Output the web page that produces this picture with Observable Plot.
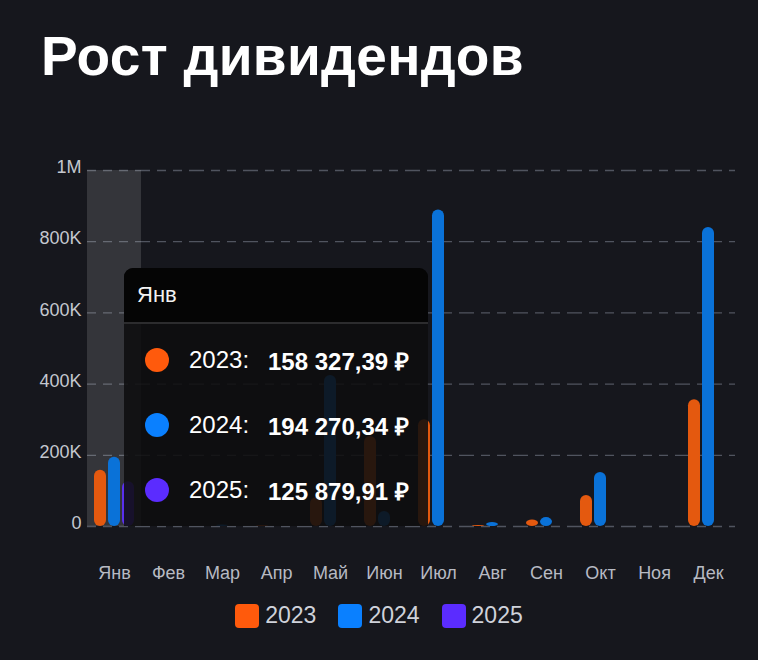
<!DOCTYPE html>
<html>
<head>
<meta charset="utf-8">
<script src="https://cdn.jsdelivr.net/npm/d3@7"></script>
<script src="https://cdn.jsdelivr.net/npm/@observablehq/plot@0.6"></script>
<style>
  html, body { margin: 0; padding: 0; }
  body { width: 758px; height: 660px; overflow: hidden; background: #16171d; font-family: "Liberation Sans", Arial, sans-serif; position: relative; }
  #title { position: absolute; left: 41px; top: 29px; font-size: 55px; font-weight: bold; color: #ffffff; line-height: 1; letter-spacing: 0.3px; }
  #chart { position: absolute; left: 0; top: 150px; }
  #tooltip { position: absolute; left: 124px; top: 268px; width: 304px; height: 258px; border-radius: 9px 9px 0 0; background: rgba(14,14,15,0.88); overflow: hidden; color: #fff; }
  #tooltip .head { height: 54px; background: #050505; border-bottom: 2px solid #2c2c2e; font-size: 22px; line-height: 54px; padding-left: 13px; color: #f2f2f2; }
  #tooltip .row { position: absolute; left: 21px; height: 30px; display: flex; align-items: center; font-size: 24px; }
  #tooltip .dot { width: 24px; height: 24px; border-radius: 50%; margin-right: 20px; }
  #tooltip .lab { width: 79px; }
  #tooltip .val { font-weight: bold; }
  #legend { position: absolute; top: 602px; left: 0; width: 758px; display: flex; justify-content: center; gap: 22px; font-size: 23px; color: #cfd2da; }
  #legend .item { display: flex; align-items: center; }
  #legend .sw { width: 24px; height: 24px; border-radius: 4px; margin-right: 6px; }
</style>
</head>
<body>
<div id="title">Рост дивидендов</div>
<div id="chart"></div>
<div id="tooltip"></div>
<div id="legend"></div>
<script>
const months = ["Янв","Фев","Мар","Апр","Май","Июн","Июл","Авг","Сен","Окт","Ноя","Дек"];
const years = ["2023","2024","2025"];
const v2023 = [158327.39, 0, 0, 3000, 81000, 253000, 300000, 3000, 18000, 87000, 0, 356000];
const v2024 = [194270.34, 0, 4000, 0, 424000, 42000, 889000, 11000, 25000, 152000, 0, 840000];
const v2025 = [125879.91, 0, 0, 0, 0, 0, 0, 0, 0, 0, 0, 0];
const yTicks = [0, 200000, 400000, 600000, 800000, 1000000];
const barColors = ["#e4590f", "#0a72d8", "#5a2ff0"];
const legendColors = ["#ff5a0c", "#0a80ff", "#5b2cff"];
const highlightMonth = "Янв";

const series = [v2023, v2024, v2025];
const data = [];
years.forEach((y, i) => months.forEach((m, j) => {
  if (series[i][j] > 0) data.push({month: m, year: y, value: series[i][j]});
}));
// grid rules for every month facet (so empty months still show the dashed grid)
const gridData = months.flatMap(m => yTicks.map(t => ({month: m, tick: t})));

const fmtTick = d => d === 0 ? "0" : d >= 1e6 ? (d / 1e6) + "M" : (d / 1e3) + "K";

const chart = Plot.plot({
  width: 758,
  height: 440,
  marginTop: 20,
  marginBottom: 64,
  marginLeft: 86,
  marginRight: 23,
  style: {background: "transparent", fontFamily: "Liberation Sans, Arial, sans-serif"},
  fx: {domain: months, padding: 0, label: null},
  x: {domain: years, paddingInner: 0.17, paddingOuter: 0.45, axis: null},
  y: {domain: [0, 1000000], label: null},
  color: {domain: years, range: barColors},
  marks: [
    Plot.ruleY(gridData, {fx: "month", y: "tick", stroke: "#50545f", strokeDasharray: "9,7", strokeWidth: 1.3}),
    Plot.rect([highlightMonth], {fx: d => d, fill: "#ffffff", fillOpacity: 0.13}),
    Plot.barY(data, {fx: "month", x: "year", y: "value", fill: "year", rx: 6}),
    Plot.axisY({ticks: yTicks, facetAnchor: "left", tickSize: 0, tickPadding: 6, tickFormat: fmtTick, fontSize: 18, fill: "#c4c7cf", dy: -3, label: null}),
    Plot.axisFx({anchor: "bottom", tickSize: 0, tickPadding: 40, fontSize: 18, fill: "#b7bac3", label: null})
  ]
});
document.getElementById("chart").appendChild(chart);

// tooltip
function fmtRub(v) {
  const [ip, fp] = v.toFixed(2).split(".");
  return ip.replace(/\B(?=(\d{3})+(?!\d))/g, "\u00a0") + "," + fp + "\u00a0₽";
}
const hi = months.indexOf(highlightMonth);
const tip = document.getElementById("tooltip");
tip.innerHTML = `<div class="head">${highlightMonth}</div>` + years.map((y, i) =>
  `<div class="row" style="top:${77 + i * 65}px"><div class="dot" style="background:${legendColors[i]}"></div><span class="lab">${y}:</span><span class="val">${fmtRub(series[i][hi])}</span></div>`
).join("");

// legend
document.getElementById("legend").innerHTML = years.map((y, i) =>
  `<div class="item"><div class="sw" style="background:${legendColors[i]}"></div>${y}</div>`
).join("");
</script>
</body>
</html>
